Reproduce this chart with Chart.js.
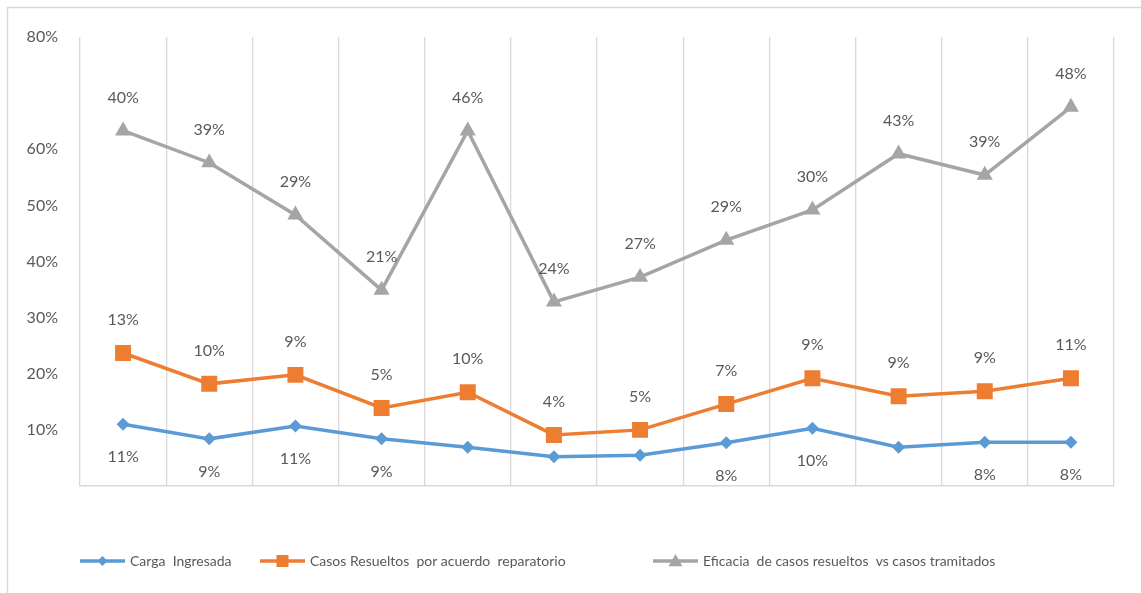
<!DOCTYPE html>
<html>
<head>
<meta charset="utf-8">
<script src="https://cdn.jsdelivr.net/npm/chart.js@4.4.1/dist/chart.umd.min.js"></script>
<style>
  html, body { margin: 0; padding: 0; background: #ffffff; }
  #wrap { width: 1141px; height: 593px; position: relative; }
</style>
</head>
<body>
<div id="wrap"><canvas id="c" width="1141" height="593"></canvas></div>
<script>
// ---- data ----
const categories = ['1','2','3','4','5','6','7','8','9','10','11','12'];

const seriesNames = [
  'Carga  Ingresada',
  'Casos Resueltos  por acuerdo  reparatorio',
  'Eficacia  de casos resueltos  vs casos tramitados'
];

// plotted positions (fractions on the 0–80% axis)
const cargaIngresada = [0.110, 0.084, 0.107, 0.084, 0.069, 0.052, 0.055, 0.077, 0.103, 0.069, 0.078, 0.078];
const casosResueltos = [0.237, 0.182, 0.198, 0.139, 0.167, 0.091, 0.100, 0.146, 0.192, 0.160, 0.169, 0.192];
const eficacia       = [0.633, 0.576, 0.483, 0.349, 0.633, 0.328, 0.372, 0.438, 0.492, 0.592, 0.554, 0.675];

// data label texts as printed on the chart
const cargaLabels    = ['11%','9%','11%','9%',null,null,null,'8%','10%',null,'8%','8%'];
const casosLabels    = ['13%','10%','9%','5%','10%','4%','5%','7%','9%','9%','9%','11%'];
const eficaciaLabels = ['40%','39%','29%','21%','46%','24%','27%','29%','30%','43%','39%','48%'];

// y-axis tick labels
const yTickValues = [0.1, 0.2, 0.3, 0.4, 0.5, 0.6, 0.8];
const yTickLabels = ['10%','20%','30%','40%','50%','60%','80%'];

const FONT = 'Lato, "Open Sans", sans-serif';
const TEXT = '#595959';
const GRID = '#d9d9d9';

const dataLabelPlugin = {
  id: 'dataLabels',
  afterDatasetsDraw(chart) {
    const ctx = chart.ctx;
    ctx.save();
    ctx.font = '16px ' + FONT;
    ctx.fillStyle = TEXT;
    ctx.textAlign = 'center';
    ctx.textBaseline = 'middle';
    chart.data.datasets.forEach((ds, i) => {
      const meta = chart.getDatasetMeta(i);
      meta.data.forEach((pt, j) => {
        const txt = ds.labelTexts[j];
        if (!txt) return;
        const dy = ds.labelPos === 'below' ? 33 : -33;
        ctx.fillText(txt, pt.x, pt.y + dy);
      });
    });
    ctx.restore();
  }
};

const framePlugin = {
  id: 'frame',
  beforeDraw(chart) {
    const ctx = chart.ctx;
    ctx.save();
    ctx.fillStyle = '#ffffff';
    ctx.fillRect(0, 0, chart.width, chart.height);
    ctx.strokeStyle = GRID;
    ctx.lineWidth = 1.5;
    ctx.strokeRect(7.5, 7.5, 1200, 700);
    ctx.restore();
  }
};

const legendPlugin = {
  id: 'customLegend',
  afterDraw(chart) {
    const ctx = chart.ctx;
    const starts = [80, 260, 653];
    const y = 561;
    ctx.save();
    ctx.font = '14px ' + FONT;
    ctx.textBaseline = 'middle';
    ctx.textAlign = 'left';
    chart.data.datasets.forEach((ds, i) => {
      const x0 = starts[i];
      const x1 = x0 + 45;
      ctx.strokeStyle = ds.borderColor;
      ctx.lineWidth = ds.borderWidth;
      ctx.beginPath();
      ctx.moveTo(x0, y);
      ctx.lineTo(x1, y);
      ctx.stroke();
      const r = ds.legendRadius;
      Chart.helpers.drawPoint(ctx, {pointStyle: ds.pointStyle, rotation: 0, borderWidth: 0}, (x0 + x1) / 2, y);
      ctx.fillStyle = ds.borderColor;
      ctx.beginPath();
      if (ds.pointStyle === 'rectRot') {
        ctx.moveTo((x0+x1)/2 - r, y); ctx.lineTo((x0+x1)/2, y - r);
        ctx.lineTo((x0+x1)/2 + r, y); ctx.lineTo((x0+x1)/2, y + r);
      } else if (ds.pointStyle === 'rect') {
        ctx.rect((x0+x1)/2 - r, y - r, 2*r, 2*r);
      } else {
        ctx.moveTo((x0+x1)/2, y - r); ctx.lineTo((x0+x1)/2 + r, y + r*0.75); ctx.lineTo((x0+x1)/2 - r, y + r*0.75);
      }
      ctx.closePath();
      ctx.fill();
      ctx.fillStyle = TEXT;
      ctx.fillText(ds.label, x1 + 5, y);
    });
    ctx.restore();
  }
};

new Chart(document.getElementById('c'), {
  type: 'line',
  data: {
    labels: categories,
    datasets: [
      {
        label: seriesNames[0], data: cargaIngresada, labelTexts: cargaLabels, labelPos: 'below',
        borderColor: '#5b9bd5', backgroundColor: '#5b9bd5', borderWidth: 3.5,
        pointStyle: 'rectRot', pointRadius: 6.5, pointBorderWidth: 0, legendRadius: 5
      },
      {
        label: seriesNames[1], data: casosResueltos, labelTexts: casosLabels, labelPos: 'above',
        borderColor: '#ed7d31', backgroundColor: '#ed7d31', borderWidth: 3.5,
        pointStyle: 'rect', pointRadius: 11.3, pointBorderWidth: 0, legendRadius: 6
      },
      {
        label: seriesNames[2], data: eficacia, labelTexts: eficaciaLabels, labelPos: 'above',
        borderColor: '#a5a5a5', backgroundColor: '#a5a5a5', borderWidth: 3.5,
        pointStyle: 'triangle', pointRadius: 9.3, pointBorderWidth: 0, legendRadius: 7
      }
    ]
  },
  options: {
    responsive: false,
    animation: false,
    events: [],
    layout: { padding: { left: 0, right: 27, top: 37, bottom: 107 } },
    elements: { line: { tension: 0 } },
    plugins: { legend: { display: false }, tooltip: { enabled: false } },
    scales: {
      x: {
        type: 'category',
        offset: true,
        grid: { display: true, offset: true, color: GRID, lineWidth: 1.3, drawTicks: false, tickLength: 0 },
        border: { display: true, color: GRID, width: 1.5 },
        ticks: { display: false },
        afterFit(scale) { scale.height = 0; }
      },
      y: {
        min: 0, max: 0.8,
        grid: { display: false, drawTicks: false },
        border: { display: false },
        afterBuildTicks(scale) { scale.ticks = yTickValues.map(v => ({ value: v })); },
        ticks: {
          padding: 22,
          color: TEXT,
          font: { family: FONT, size: 16 },
          callback(value) {
            const idx = yTickValues.findIndex(v => Math.abs(v - value) < 1e-9);
            return idx >= 0 ? yTickLabels[idx] : '';
          }
        },
        afterFit(scale) { scale.width = 80; }
      }
    }
  },
  plugins: [framePlugin, dataLabelPlugin, legendPlugin]
});
</script>
</body>
</html>
